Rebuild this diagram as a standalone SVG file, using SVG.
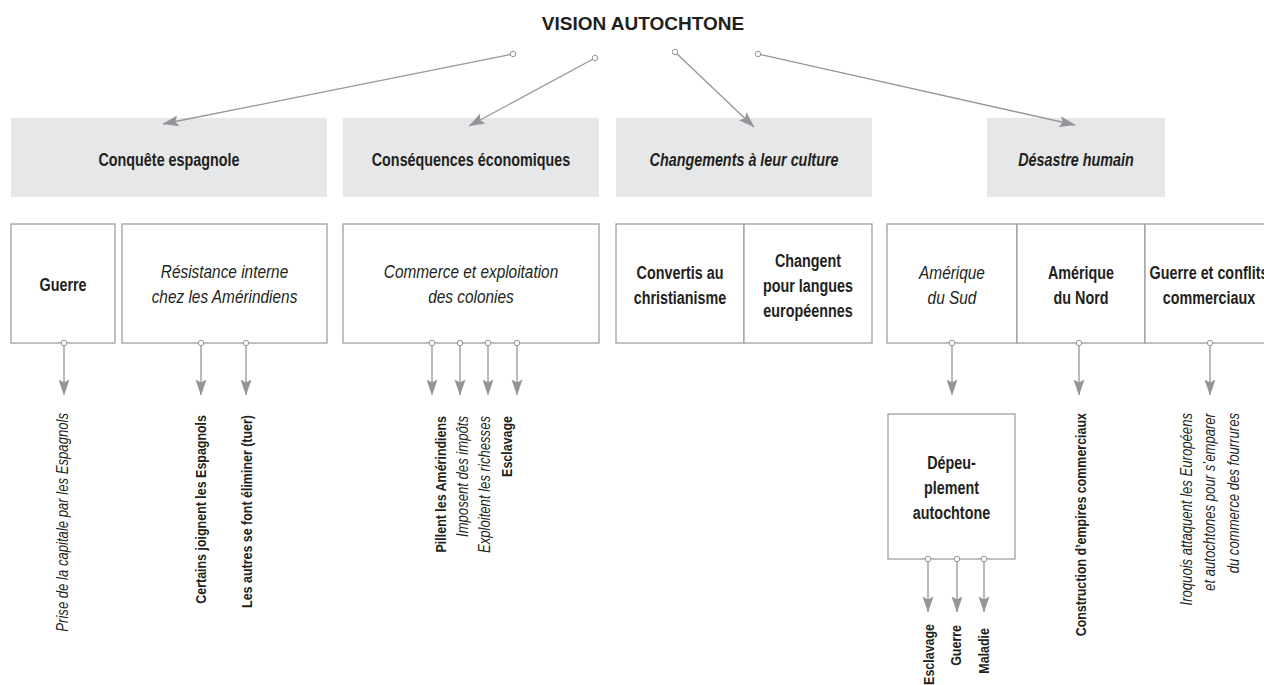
<svg xmlns="http://www.w3.org/2000/svg" width="1264" height="685" viewBox="0 0 1264 685">
<defs>
<style>
text{font-family:"Liberation Sans",Arial,sans-serif;fill:#231f20;}
.title{font-weight:bold;font-size:19px;text-anchor:middle}
.hd{font-weight:bold;font-size:17.5px;text-anchor:middle}
.hdi{font-weight:bold;font-style:italic;font-size:17.5px;text-anchor:middle}
.bx{font-weight:bold;font-size:17.5px;text-anchor:middle}
.bxi{font-style:italic;font-size:17.5px;text-anchor:middle}
.v{font-weight:bold;font-size:15.2px;text-anchor:end}
.vi{font-style:italic;font-size:16px;text-anchor:end}
.gray{fill:#e6e7e8}
.box{fill:#fff;stroke:#9d9fa2;stroke-width:1.3}
.con{fill:none;stroke:#939598;stroke-width:1.3;marker-start:url(#dot);marker-end:url(#arr)}
</style>
<marker id="arr" viewBox="0 0 16 12" refX="15.5" refY="6" markerWidth="16" markerHeight="12" markerUnits="userSpaceOnUse" orient="auto"><path d="M0,0.5 L16,6 L0,11.5 L3,6 Z" fill="#939598"/></marker>
<marker id="dot" viewBox="-4 -4 8 8" refX="0" refY="0" markerWidth="8" markerHeight="8" markerUnits="userSpaceOnUse"><circle r="2.7" fill="#fff" stroke="#939598" stroke-width="1"/></marker>
</defs>
<rect width="1264" height="685" fill="#fff"/>

<g id="title"><text class="title" x="643" y="30">VISION AUTOCHTONE</text></g>

<g id="conquete"><rect class="gray" x="11" y="118" width="316" height="79"/><text class="hd" transform="translate(169,166) scale(0.82,1)">Conquête espagnole</text></g>
<g id="consequences"><rect class="gray" x="343" y="118" width="256" height="79"/><text class="hd" transform="translate(471,166) scale(0.82,1)">Conséquences économiques</text></g>
<g id="changements"><rect class="gray" x="616" y="118" width="256" height="79"/><text class="hdi" transform="translate(744,166) scale(0.82,1)">Changements à leur culture</text></g>
<g id="desastre"><rect class="gray" x="987" y="118" width="178" height="79"/><text class="hdi" transform="translate(1076,166) scale(0.82,1)">Désastre humain</text></g>

<g id="guerre"><rect class="box" x="11" y="224" width="104" height="119"/><text class="bx" transform="translate(63,291) scale(0.82,1)">Guerre</text></g>
<g id="resistance"><rect class="box" x="122" y="224" width="205" height="119"/><text class="bxi" transform="translate(224.5,278) scale(0.88,1)"><tspan x="0" y="0">Résistance interne</tspan><tspan x="0" y="25">chez les Amérindiens</tspan></text></g>
<g id="commerce"><rect class="box" x="343" y="224" width="256" height="119"/><text class="bxi" transform="translate(471,278) scale(0.88,1)"><tspan x="0" y="0">Commerce et exploitation</tspan><tspan x="0" y="25">des colonies</tspan></text></g>
<g id="convertis"><rect class="box" x="616" y="224" width="128" height="119"/><text class="bx" transform="translate(680,279) scale(0.82,1)"><tspan x="0" y="0">Convertis au</tspan><tspan x="0" y="25">christianisme</tspan></text></g>
<g id="changent"><rect class="box" x="744" y="224" width="128" height="119"/><text class="bx" transform="translate(808,267) scale(0.82,1)"><tspan x="0" y="0">Changent</tspan><tspan x="0" y="25">pour langues</tspan><tspan x="0" y="50">européennes</tspan></text></g>
<g id="amsud"><rect class="box" x="887" y="224" width="130" height="119"/><text class="bxi" transform="translate(952,279) scale(0.88,1)"><tspan x="0" y="0">Amérique</tspan><tspan x="0" y="25">du Sud</tspan></text></g>
<g id="amnord"><rect class="box" x="1017" y="224" width="128" height="119"/><text class="bx" transform="translate(1081,279) scale(0.82,1)"><tspan x="0" y="0">Amérique</tspan><tspan x="0" y="25">du Nord</tspan></text></g>
<g id="conflits"><rect class="box" x="1145" y="224" width="128" height="119"/><text class="bx" transform="translate(1209,279) scale(0.82,1)"><tspan x="0" y="0">Guerre et conflits</tspan><tspan x="0" y="25">commerciaux</tspan></text></g>
<g id="depeuplement"><rect class="box" x="888" y="414" width="127" height="145"/><text class="bx" transform="translate(951.5,469) scale(0.82,1)"><tspan x="0" y="0">Dépeu-</tspan><tspan x="0" y="25">plement</tspan><tspan x="0" y="50">autochtone</tspan></text></g>

<g id="labels">
<text class="vi" transform="translate(68,413) rotate(-90) scale(0.82,1)">Prise de la capitale par les Espagnols</text>
<text class="v" transform="translate(206,415) rotate(-90) scale(0.82,1)">Certains joignent les Espagnols</text>
<text class="v" transform="translate(252,415) rotate(-90) scale(0.82,1)">Les autres se font éliminer (tuer)</text>
<text class="v" transform="translate(446,416) rotate(-90) scale(0.82,1)">Pillent les Amérindiens</text>
<text class="vi" transform="translate(468,416) rotate(-90) scale(0.82,1)">Imposent des impôts</text>
<text class="vi" transform="translate(490,416) rotate(-90) scale(0.82,1)">Exploitent les richesses</text>
<text class="v" transform="translate(512,416) rotate(-90) scale(0.82,1)">Esclavage</text>
<text class="v" transform="translate(1086,413) rotate(-90) scale(0.82,1)">Construction d’empires commerciaux</text>
<text class="vi" transform="translate(1192,413) rotate(-90) scale(0.82,1)">Iroquois attaquent les Européens</text>
<text class="vi" transform="translate(1215,413) rotate(-90) scale(0.82,1)">et autochtones pour s’emparer</text>
<text class="vi" transform="translate(1239,413) rotate(-90) scale(0.82,1)">du commerce des fourrures</text>
<text class="v" transform="translate(934,624) rotate(-90) scale(0.82,1)">Esclavage</text>
<text class="v" transform="translate(961,625) rotate(-90) scale(0.82,1)">Guerre</text>
<text class="v" transform="translate(989,628) rotate(-90) scale(0.82,1)">Maladie</text>
</g>

<g id="connectors">
<path class="con" d="M513,54 L163,124"/>
<path class="con" d="M595,58 L469,126"/>
<path class="con" d="M675,52 L754,127"/>
<path class="con" d="M758,54 L1075,125"/>
<path class="con" d="M64,343 V395"/>
<path class="con" d="M201,343 V395"/>
<path class="con" d="M246,343 V395"/>
<path class="con" d="M432,343 V395"/>
<path class="con" d="M460,343 V395"/>
<path class="con" d="M488,343 V395"/>
<path class="con" d="M517,343 V395"/>
<path class="con" d="M952,343 V395"/>
<path class="con" d="M1079,343 V395"/>
<path class="con" d="M1210,343 V395"/>
<path class="con" d="M928,559 V612"/>
<path class="con" d="M957,559 V612"/>
<path class="con" d="M984,559 V612"/>
</g>
</svg>
